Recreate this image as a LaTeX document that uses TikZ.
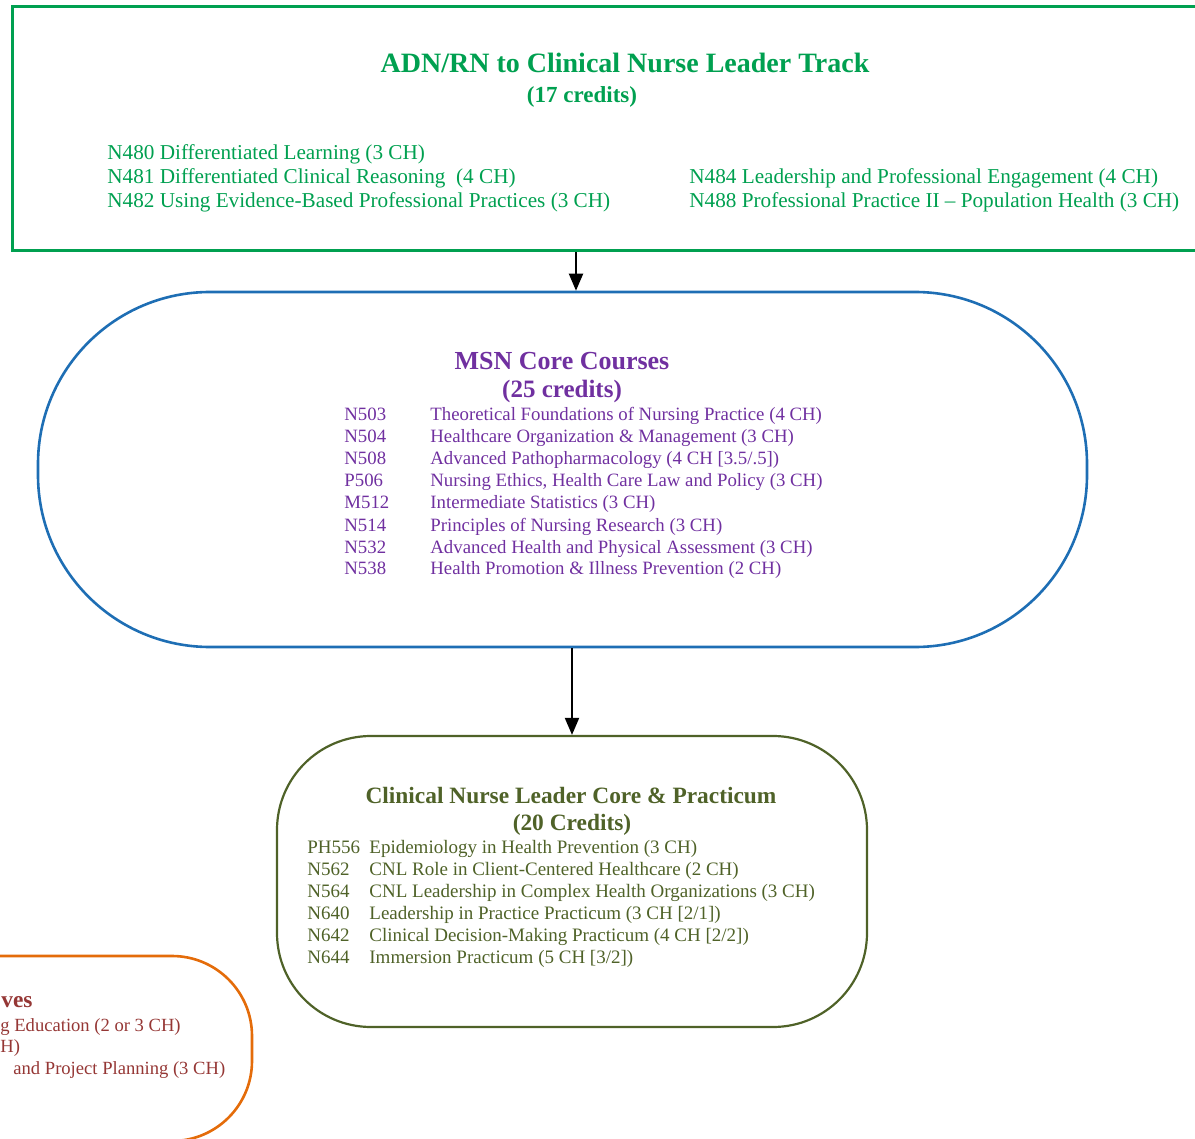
\documentclass[tikz,border=0pt]{standalone}
\usepackage{fontspec}
\setmainfont{Liberation Serif}
\usetikzlibrary{arrows.meta}
\definecolor{trackgreen}{RGB}{0,160,80}
\definecolor{coreblue}{RGB}{30,110,180}
\definecolor{corepurple}{RGB}{112,48,160}
\definecolor{cnlolive}{RGB}{79,98,40}
\definecolor{electorange}{RGB}{228,108,10}
\definecolor{electred}{RGB}{149,55,53}
\begin{document}
\begin{tikzpicture}[x=0.5pt,y=-0.5pt,
    >={Triangle[length=8.5pt,width=7pt]},
    every node/.style={inner sep=0pt},
    ttl/.style={anchor=base,font=\bfseries\fontsize{#1}{#1}\selectfont},
    crs/.style={anchor=base west,font=\fontsize{#1}{#1}\selectfont}]
    \useasboundingbox (0,0) rectangle (1195,1139);
    \clip (0,0) rectangle (1195,1139);
    % track box
    \node[draw=trackgreen,line width=1.5pt,minimum width=599pt,minimum height=122pt] (track) at (611,129) {};
    \node[ttl=14,text=trackgreen] (tracktitle) at (625,73) {ADN/RN to Clinical Nurse Leader Track};
    \node[ttl=11.5,text=trackgreen] (trackcred) at (582,103) {(17 credits)};
    \node[crs=10.6,text=trackgreen] (n480) at (107,160) {N480 Differentiated Learning (3 CH)};
    \node[crs=10.6,text=trackgreen] (n481) at (107,184) {N481 Differentiated Clinical Reasoning~ (4 CH)};
    \node[crs=10.6,text=trackgreen] (n482) at (107,208) {N482 Using Evidence-Based Professional Practices (3 CH)};
    \node[crs=10.6,text=trackgreen] (n484) at (689,184) {N484 Leadership and Professional Engagement (4 CH)};
    \node[crs=10.6,text=trackgreen] (n488) at (689,208) {N488 Professional Practice II -- Population Health (3 CH)};
    % msn core
    \node[draw=coreblue,line width=1.3pt,rounded corners=86pt,minimum width=524.5pt,minimum height=177.5pt] (msn) at (562.5,469.5) {};
    \node[ttl=13,text=corepurple] (msntitle) at (562,370) {MSN Core Courses};
    \node[ttl=12.5,text=corepurple] (msncred) at (562,398) {(25 credits)};
    \node[crs=9.4,text=corepurple] (c503) at (344,421) {N503};
    \node[crs=9.4,text=corepurple] (d503) at (430,421) {Theoretical Foundations of Nursing Practice (4 CH)};
    \node[crs=9.4,text=corepurple] (c504) at (344,443) {N504};
    \node[crs=9.4,text=corepurple] (d504) at (430,443) {Healthcare Organization \& Management (3 CH)};
    \node[crs=9.4,text=corepurple] (c508) at (344,465) {N508};
    \node[crs=9.4,text=corepurple] (d508) at (430,465) {Advanced Pathopharmacology (4 CH [3.5/.5])};
    \node[crs=9.4,text=corepurple] (c506) at (344,487) {P506};
    \node[crs=9.4,text=corepurple] (d506) at (430,487) {Nursing Ethics, Health Care Law and Policy (3 CH)};
    \node[crs=9.4,text=corepurple] (c512) at (344,509) {M512};
    \node[crs=9.4,text=corepurple] (d512) at (430,509) {Intermediate Statistics (3 CH)};
    \node[crs=9.4,text=corepurple] (c514) at (344,531) {N514};
    \node[crs=9.4,text=corepurple] (d514) at (430,531) {Principles of Nursing Research (3 CH)};
    \node[crs=9.4,text=corepurple] (c532) at (344,553) {N532};
    \node[crs=9.4,text=corepurple] (d532) at (430,553) {Advanced Health and Physical Assessment (3 CH)};
    \node[crs=9.4,text=corepurple] (c538) at (344,574) {N538};
    \node[crs=9.4,text=corepurple] (d538) at (430,574) {Health Promotion \& Illness Prevention (2 CH)};
    % cnl core
    \node[draw=cnlolive,line width=1.1pt,rounded corners=47pt,minimum width=295pt,minimum height=145.5pt] (cnl) at (572,881.5) {};
    \node[ttl=11.7,text=cnlolive] (cnltitle) at (571,803) {Clinical Nurse Leader Core \& Practicum};
    \node[ttl=11.7,text=cnlolive] (cnlcred) at (572,830) {(20 Credits)};
    \node[crs=9.5,text=cnlolive] (c556) at (307,853) {PH556};
    \node[crs=9.5,text=cnlolive] (d556) at (369,853) {Epidemiology in Health Prevention (3 CH)};
    \node[crs=9.5,text=cnlolive] (c562) at (307,875) {N562};
    \node[crs=9.5,text=cnlolive] (d562) at (369,875) {CNL Role in Client-Centered Healthcare (2 CH)};
    \node[crs=9.5,text=cnlolive] (c564) at (307,897) {N564};
    \node[crs=9.5,text=cnlolive] (d564) at (369,897) {CNL Leadership in Complex Health Organizations (3 CH)};
    \node[crs=9.5,text=cnlolive] (c640) at (307,919) {N640};
    \node[crs=9.5,text=cnlolive] (d640) at (369,919) {Leadership in Practice Practicum (3 CH [2/1])};
    \node[crs=9.5,text=cnlolive] (c642) at (307,941) {N642};
    \node[crs=9.5,text=cnlolive] (d642) at (369,941) {Clinical Decision-Making Practicum (4 CH [2/2])};
    \node[crs=9.5,text=cnlolive] (c644) at (307,963) {N644};
    \node[crs=9.5,text=cnlolive] (d644) at (369,963) {Immersion Practicum (5 CH [3/2])};
    % electives, cut at the left edge
    \node[draw=electorange,line width=1.3pt,rounded corners=40pt,minimum width=276pt,minimum height=92.5pt] (elect) at (-24,1048.5) {};
    \node[crs=11.7,text=electred,font=\bfseries\fontsize{11.7}{11.7}\selectfont] (electtitle) at (1,1007) {ves};
    \node[crs=9.3,text=electred] (e1) at (0,1031) {g Education (2 or 3 CH)};
    \node[crs=9.3,text=electred] (e2) at (0,1052) {H)};
    \node[crs=9.3,text=electred] (e3) at (13,1074) {and Project Planning (3 CH)};
    % arrows
    \coordinate (down1) at (576,0);
    \draw[->,line width=1pt] (track.south -| down1) -- (msn.north -| down1);
    \draw[->,line width=1pt] (msn.south -| cnl.north) -- (cnl.north);
\end{tikzpicture}
\end{document}
